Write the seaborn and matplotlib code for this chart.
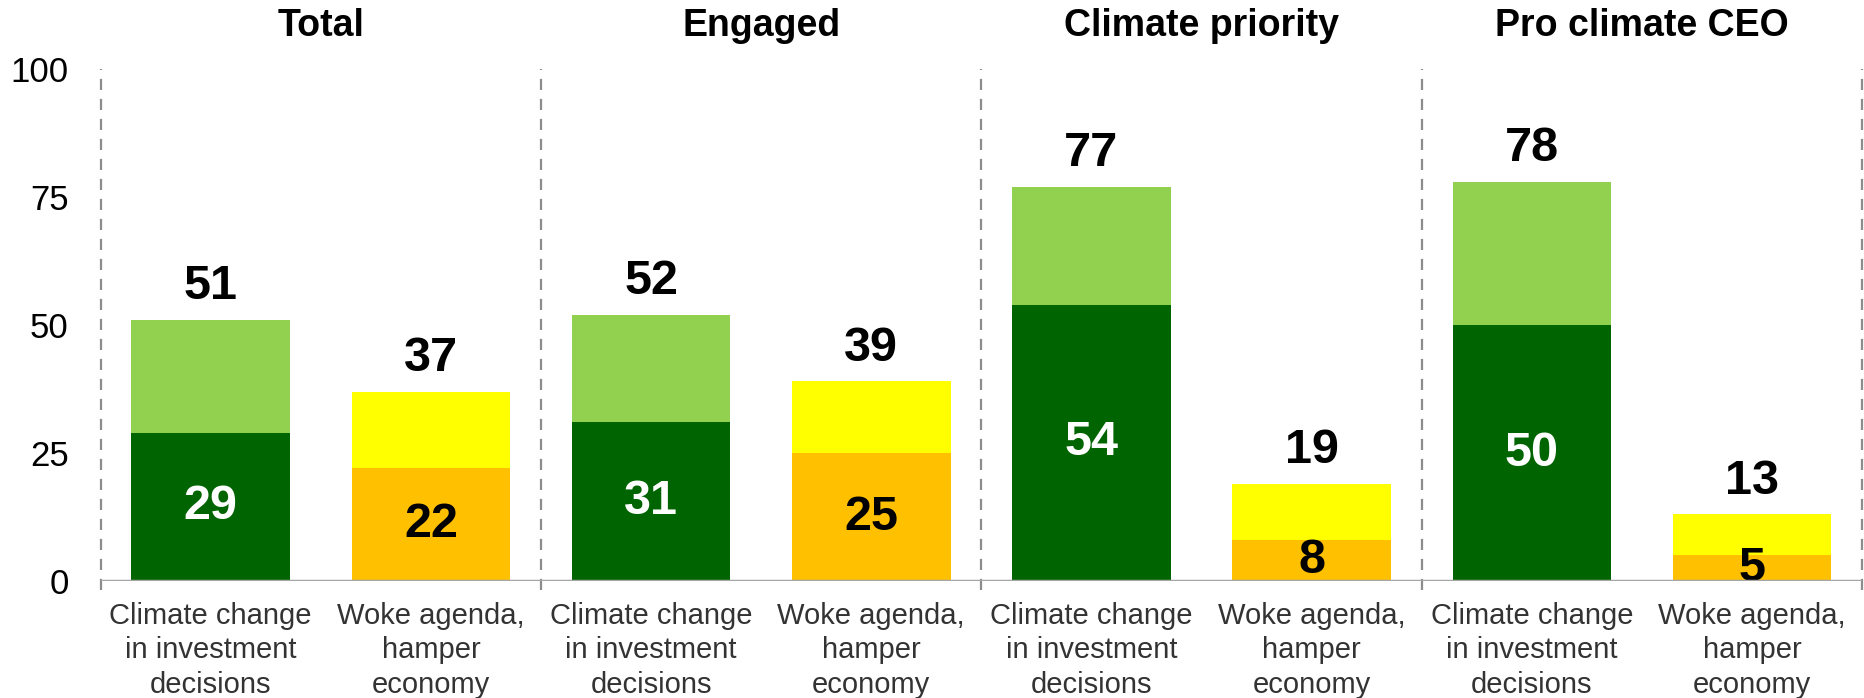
import numpy as np
import matplotlib
matplotlib.use("Agg")
import matplotlib.pyplot as plt
import seaborn as sns
import pandas as pd

groups = ["Total", "Engaged", "Climate priority", "Pro climate CEO"]
items = ["Climate change\nin investment\ndecisions", "Woke agenda,\nhamper\neconomy"]

# strong share (dark segment) and total share (whole bar)
climate_strong = [29, 31, 54, 50]
climate_total = [51, 52, 77, 78]
woke_strong = [22, 25, 8, 5]
woke_total = [37, 39, 19, 13]

dark = {"climate": "#006400", "woke": "#FFC000"}
light = {"climate": "#92D050", "woke": "#FFFF00"}

rows = []
for i, g in enumerate(groups):
    rows.append({"bar": g + "|climate", "kind": "climate", "item": items[0],
                 "strong": climate_strong[i], "total": climate_total[i]})
    rows.append({"bar": g + "|woke", "kind": "woke", "item": items[1],
                 "strong": woke_strong[i], "total": woke_total[i]})
df = pd.DataFrame(rows)

sns.set_style("white")
plt.rcParams["font.family"] = ["Liberation Sans", "DejaVu Sans"]

fig, ax = plt.subplots(figsize=(18.64, 6.98), dpi=100)
fig.subplots_adjust(left=0.054, right=0.999, bottom=0.1676, top=0.9011)

order = list(df["bar"])
sns.barplot(data=df, x="bar", y="total", hue="bar", order=order, hue_order=order,
            palette=[light[k] for k in df["kind"]], width=0.72, errorbar=None,
            legend=False, saturation=1, linewidth=0, ax=ax)
sns.barplot(data=df, x="bar", y="strong", hue="bar", order=order, hue_order=order,
            palette=[dark[k] for k in df["kind"]], width=0.72, errorbar=None,
            legend=False, saturation=1, linewidth=0, ax=ax)

for i, r in df.iterrows():
    ax.annotate(str(r["total"]), (i, r["total"]), xytext=(0, 24),
                textcoords="offset points", ha="center", va="center",
                fontsize=35, fontweight="bold", color="black")
    ax.text(i, r["strong"] / 2, str(r["strong"]), ha="center", va="center",
            fontsize=35, fontweight="bold",
            color="white" if r["kind"] == "climate" else "black")

for j, g in enumerate(groups):
    ax.text(2 * j + 0.5, 108.4, g, ha="center", va="center", fontsize=27,
            fontweight="bold", color="black", clip_on=False)

ax.vlines([-0.5, 1.5, 3.5, 5.5, 7.5], -1.8, 100, colors="#8c8c8c",
          linestyles=(0, (5, 4)), linewidth=1.6, clip_on=False, zorder=0)
ax.axhline(0, color="#a6a6a6", linewidth=2.5, zorder=3)

ax.set_xlim(-0.5, 7.5)
ax.set_ylim(0, 100)
ax.set_yticks([0, 25, 50, 75, 100])
ax.tick_params(axis="y", labelsize=25, length=0, pad=23, labelcolor="black")
ax.set_xticks(range(len(df)))
ax.set_xticklabels(list(df["item"]), fontsize=21, color="#333333",
                   linespacing=1.3)
ax.tick_params(axis="x", length=0, pad=15)
ax.set_xlabel("")
ax.set_ylabel("")
sns.despine(left=True, bottom=True, top=True, right=True)

plt.savefig("out.png", dpi=100)
